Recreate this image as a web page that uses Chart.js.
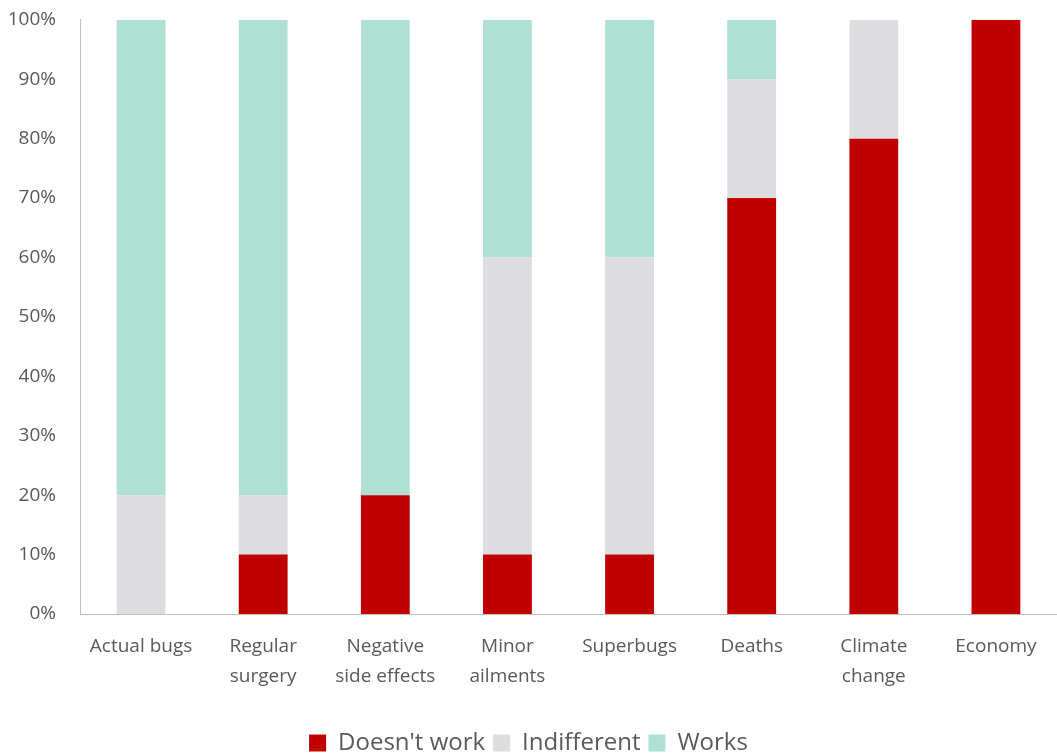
<!DOCTYPE html>
<html>
<head>
<meta charset="utf-8">
<script src="https://cdn.jsdelivr.net/npm/chart.js@4"></script>
<style>
  body { margin: 0; background: #fff; }
  #wrap { width: 1057px; height: 756px; }
</style>
</head>
<body>
<div id="wrap"><canvas id="chart" width="1057" height="756"></canvas></div>
<script>
const categories = [
  ["Actual bugs"], ["Regular", "surgery"], ["Negative", "side effects"], ["Minor", "ailments"],
  ["Superbugs"], ["Deaths"], ["Climate", "change"], ["Economy"]
];
const doesntWork = [0, 10, 20, 10, 10, 70, 80, 100];
const indifferent = [20, 10, 0, 50, 50, 20, 20, 0];
const works = [80, 80, 80, 40, 40, 10, 0, 0];

const textColor = "#595959";
const fontFamily = "'Open Sans', 'Liberation Sans', sans-serif";

// nudge legend down toward the bottom edge, like the original
const legendNudge = {
  id: "legendNudge",
  afterLayout(chart) {
    chart.legend.top += 9;
    chart.legend.bottom += 9;
  },
};

const ctx = document.getElementById("chart").getContext("2d");
new Chart(ctx, {
  type: "bar",
  data: {
    labels: categories,
    datasets: [
      { label: "Doesn't work", data: doesntWork, backgroundColor: "#C00000" },
      { label: "Indifferent", data: indifferent, backgroundColor: "#DDDDDF" },
      { label: "Works", data: works, backgroundColor: "#AEE1D4" },
    ],
  },
  plugins: [legendNudge],
  options: {
    responsive: false,
    animation: false,
    categoryPercentage: 1,
    barPercentage: 0.4,
    layout: { padding: { top: 5, right: 0, left: 0, bottom: 0 } },
    plugins: {
      tooltip: { enabled: false },
      legend: {
        position: "bottom",
        labels: {
          color: textColor,
          font: { family: fontFamily, size: 24, lineHeight: 1 },
          boxWidth: 17,
          boxHeight: 17,
          padding: 8,
        },
      },
    },
    scales: {
      x: {
        stacked: true,
        grid: { display: false },
        border: { color: "#BFBFBF", width: 1 },
        ticks: {
          color: textColor,
          font: { family: fontFamily, size: 19, lineHeight: 1.55 },
          maxRotation: 0,
          padding: 10,
        },
        afterFit: (scale) => { scale.height = 100; },
      },
      y: {
        stacked: true,
        min: 0,
        max: 100,
        grid: { display: false },
        border: { color: "#BFBFBF", width: 1 },
        afterFit: (scale) => { scale.width = 80; },
        ticks: {
          stepSize: 10,
          color: textColor,
          font: { family: fontFamily, size: 19, lineHeight: 0.4 },
          padding: 16,
          callback: (v) => v + "%",
        },
      },
    },
  },
});
</script>
</body>
</html>
